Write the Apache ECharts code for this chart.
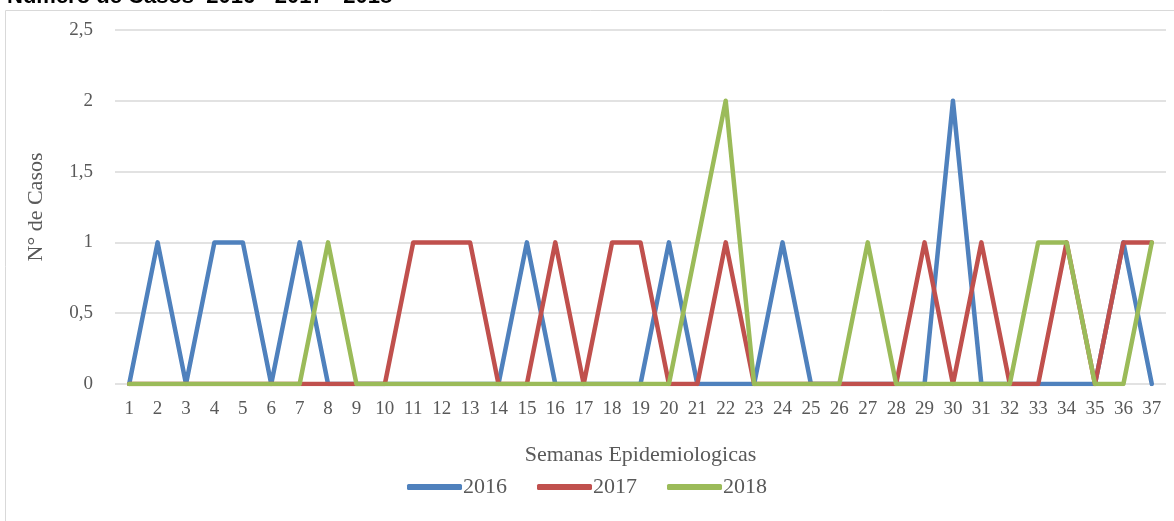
<!DOCTYPE html>
<html lang="es">
<head>
    <meta charset="utf-8" />
    <title>Casos por semana</title>
    <script src="https://cdn.jsdelivr.net/npm/echarts@6/dist/echarts.min.js"></script>
    <style>
        html, body, #main {
            width: 100%;
            height: 100%;
            padding: 0;
            margin: 0;
            background: #fff;
        }
    </style>
</head>
<body>
<div id="main"></div>
<script>
    // semanas 1..37
    var semanas = [];
    for (var i = 1; i <= 37; i++) semanas.push(String(i));

    var casos2016 = [0,1,0,1,1,0,1,0,0,0,0,0,0,0,1,0,0,0,0,1,0,0,0,1,0,0,0,0,0,2,0,0,0,0,0,1,0];
    var casos2017 = [0,0,0,0,0,0,0,0,0,0,1,1,1,0,0,1,0,1,1,0,0,1,0,0,0,0,0,0,1,0,1,0,0,1,0,1,1];
    var casos2018 = [0,0,0,0,0,0,0,1,0,0,0,0,0,0,0,0,0,0,0,0,1,2,0,0,0,0,1,0,0,0,0,0,1,1,0,0,1];

    var fuente = '"Liberation Serif", "DejaVu Serif", serif';

    function serie(nombre, datos, color) {
        return {
            name: nombre,
            type: 'line',
            data: datos,
            symbol: 'none',
            lineStyle: { width: 4.5, color: color, cap: 'round', join: 'round' },
            itemStyle: { color: color }
        };
    }

    var myChart = echarts.init(document.getElementById('main'));
    myChart.setOption({
        animation: false,
        title: {
            text: 'Número de Casos  2016 - 2017 - 2018',
            left: 2,
            top: -19,
            textStyle: { fontSize: 22, fontWeight: 'bold', color: '#000', fontFamily: 'Arial, sans-serif' }
        },
        graphic: [{
            type: 'rect',
            shape: { x: 5.5, y: 10.5, width: 1180, height: 520 },
            style: { fill: 'none', stroke: '#d9d9d9', lineWidth: 1 },
            silent: true
        }],
        grid: { left: 115, right: 8, top: 30, bottom: 137 },
        legend: {
            bottom: 18,
            left: 'center',
            itemWidth: 55,
            itemHeight: 6,
            itemGap: 30,
            icon: 'roundRect',
            textStyle: { fontFamily: fuente, fontSize: 22, color: '#595959', padding: [0, 0, 0, -4] },
            data: ['2016', '2017', '2018']
        },
        xAxis: {
            type: 'category',
            data: semanas,
            boundaryGap: true,
            name: 'Semanas Epidemiologicas',
            nameLocation: 'middle',
            nameGap: 60,
            nameTextStyle: { fontFamily: fuente, fontSize: 22, color: '#595959' },
            axisLine: { show: false },
            axisTick: { show: false },
            axisLabel: { interval: 0, fontFamily: fuente, fontSize: 19, color: '#595959', margin: 16 }
        },
        yAxis: {
            type: 'value',
            min: 0,
            max: 2.5,
            interval: 0.5,
            name: 'N° de Casos',
            nameLocation: 'middle',
            nameGap: 68,
            nameTextStyle: { fontFamily: fuente, fontSize: 22, color: '#595959' },
            axisLine: { show: false },
            axisTick: { show: false },
            splitLine: { lineStyle: { color: '#d9d9d9', width: 1.5 } },
            axisLabel: {
                fontFamily: fuente, fontSize: 19, color: '#595959', margin: 22,
                formatter: function (v) { return String(v).replace('.', ','); }
            }
        },
        series: [
            serie('2016', casos2016, '#4F81BD'),
            serie('2017', casos2017, '#C0504D'),
            serie('2018', casos2018, '#9BBB59')
        ]
    });
</script>
</body>
</html>
